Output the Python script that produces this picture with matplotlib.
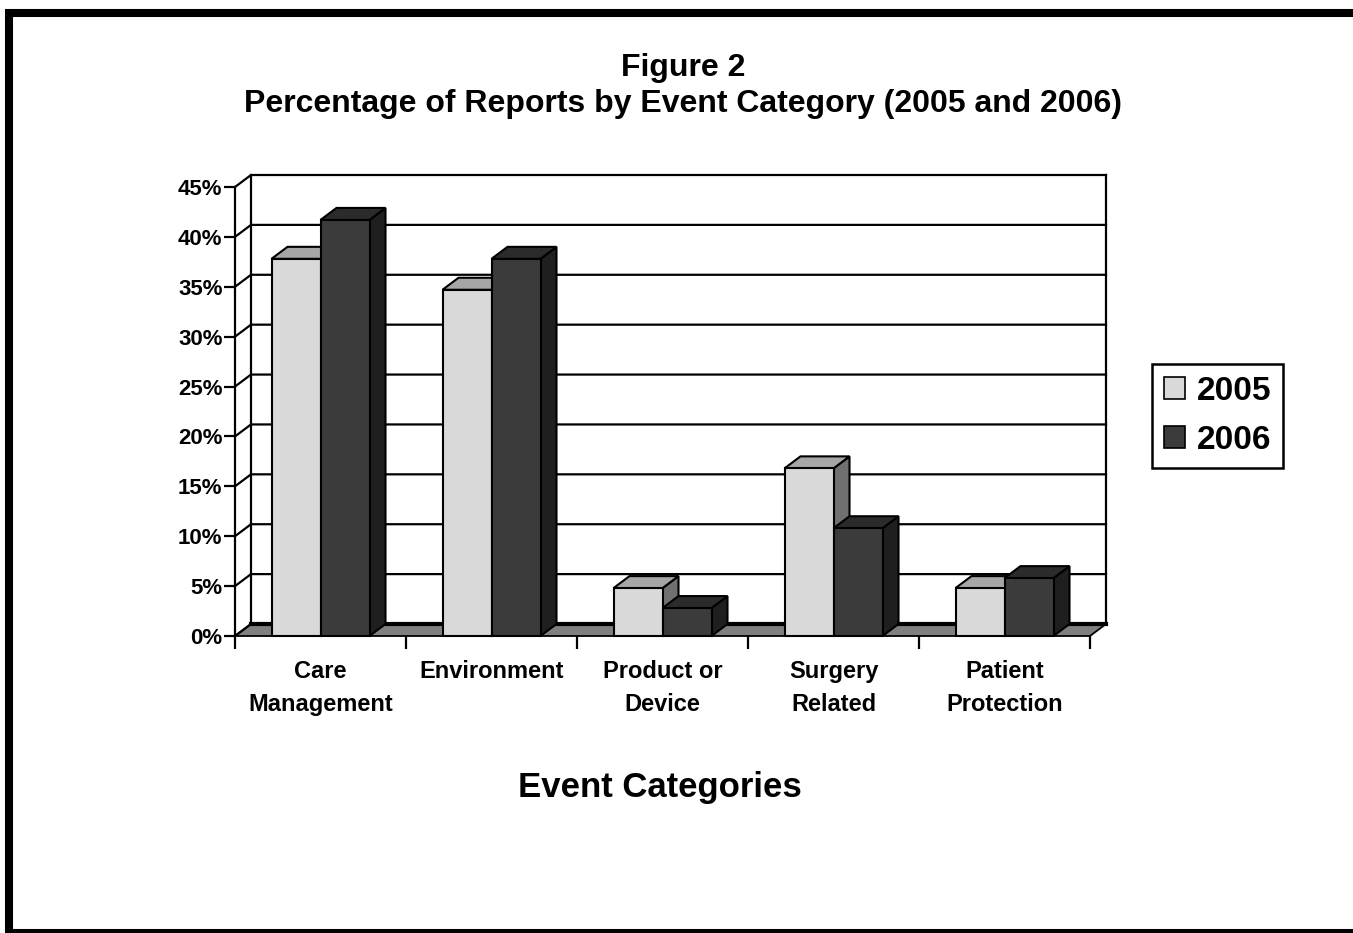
import numpy as np
import matplotlib.pyplot as plt
from matplotlib.patches import Polygon, Rectangle, Patch

plt.rcParams['font.family'] = ['Liberation Sans', 'DejaVu Sans']
plt.rcParams['font.weight'] = 'bold'

# data
categories = ['Care\nManagement', 'Environment', 'Product or\nDevice',
              'Surgery\nRelated', 'Patient\nProtection']
pct_2005 = [37.8, 34.7, 4.8, 16.8, 4.8]
pct_2006 = [41.7, 37.8, 2.8, 10.8, 5.8]
years = ['2005', '2006']
yticks = np.arange(0, 46, 5)

# front / top / side shades of each series
shades = {
    '2005': ('#d9d9d9', '#a6a6a6', '#707070'),
    '2006': ('#3b3b3b', '#2b2b2b', '#1f1f1f'),
}
floor_color = '#808080'

W, H = 1353, 933
fig = plt.figure(figsize=(W / 100, H / 100), dpi=100)

# front plane of the 3d plot
left, right, bottom, top = 235, 1090, 636, 187
ax = fig.add_axes([left / W, 1 - bottom / H, (right - left) / W, (bottom - top) / H])
n = len(categories)
ax.set_xlim(-0.5, n - 0.5)
ax.set_ylim(0, 45)

# depth offset (pixels -> data units)
dx = 16 * n / (right - left)
dy = 12 * 45 / (bottom - top)
bar_w = 49 * n / (right - left)

x0, x1 = -0.5, n - 0.5

# floor
ax.add_patch(Polygon([(x0, 0), (x1, 0), (x1 + dx, dy), (x0 + dx, dy)],
                     closed=True, fc=floor_color, ec='black', lw=1.3,
                     clip_on=False, zorder=1))
ax.plot([x0 + dx, x1 + dx], [dy, dy], color='black', lw=3, clip_on=False, zorder=1.5)

# back wall gridlines with side wall diagonals
for v in yticks[1:]:
    ax.plot([x0, x0 + dx, x1 + dx], [v, v + dy, v + dy], color='black', lw=1.6,
            clip_on=False, zorder=1.2)
ax.plot([x0, x0 + dx], [0, dy], color='black', lw=1.6, clip_on=False, zorder=1.2)
for xe in (x0 + dx, x1 + dx):
    ax.plot([xe, xe], [dy, 45 + dy], color='black', lw=1.6, clip_on=False, zorder=1.2)


def bar3d(xl, h, cols):
    front, topc, side = cols
    kw = dict(ec='black', lw=1.5, clip_on=False, zorder=3, joinstyle='miter')
    ax.add_patch(Polygon([(xl + bar_w, 0), (xl + bar_w + dx, dy),
                          (xl + bar_w + dx, h + dy), (xl + bar_w, h)], fc=side, **kw))
    ax.add_patch(Polygon([(xl, h), (xl + bar_w, h), (xl + bar_w + dx, h + dy),
                          (xl + dx, h + dy)], fc=topc, **kw))
    ax.add_patch(Rectangle((xl, 0), bar_w, h, fc=front, **kw))


for i in range(n):
    bar3d(i - bar_w, pct_2005[i], shades['2005'])
    bar3d(i, pct_2006[i], shades['2006'])

# axes styling
for s in ['top', 'right', 'bottom']:
    ax.spines[s].set_visible(False)
ax.spines['left'].set_linewidth(1.6)
ax.set_facecolor('none')
ax.set_yticks(yticks)
ax.set_yticklabels([f'{v}%' for v in yticks], fontsize=16, fontweight='bold')
ax.tick_params(axis='y', length=8, width=1.6, pad=1)

ax.set_xticks(np.arange(n + 1) - 0.5)
ax.set_xticklabels([])
ax.tick_params(axis='x', which='major', length=9, width=1.6)
ax.set_xticks(np.arange(n), minor=True)
ax.set_xticklabels(categories, minor=True, fontsize=17, fontweight='bold',
                   linespacing=1.55)
ax.tick_params(axis='x', which='minor', length=0, pad=17)

fig.text(683 / W, 1 - 68 / H, 'Figure 2', ha='center', va='center',
         fontsize=23, fontweight='bold')
fig.text(683 / W, 1 - 104 / H, 'Percentage of Reports by Event Category (2005 and 2006)',
         ha='center', va='center', fontsize=23, fontweight='bold')
fig.text(660 / W, 1 - 787 / H, 'Event Categories', ha='center', va='center',
         fontsize=25, fontweight='bold')

handles = [Patch(fc=shades[y][0], ec='black', lw=1.2, label=y) for y in years]
leg = ax.legend(handles=handles, loc='upper left',
                bbox_to_anchor=(1152 / W, 1 - 364 / H), bbox_transform=fig.transFigure,
                prop={'size': 24, 'weight': 'bold'}, frameon=True, fancybox=False,
                framealpha=1, edgecolor='black', borderaxespad=0,
                handlelength=0.65, handleheight=0.65, handletextpad=0.35,
                labelspacing=0.55, borderpad=0.35)
leg.get_frame().set_linewidth(1.8)

# outer frame
fig.add_artist(Rectangle((9 / W, 0), 1.05, 1 - 13 / H, transform=fig.transFigure,
                         fill=False, ec='black', lw=5.8, clip_on=False))

fig.savefig('out.png', dpi=100)
